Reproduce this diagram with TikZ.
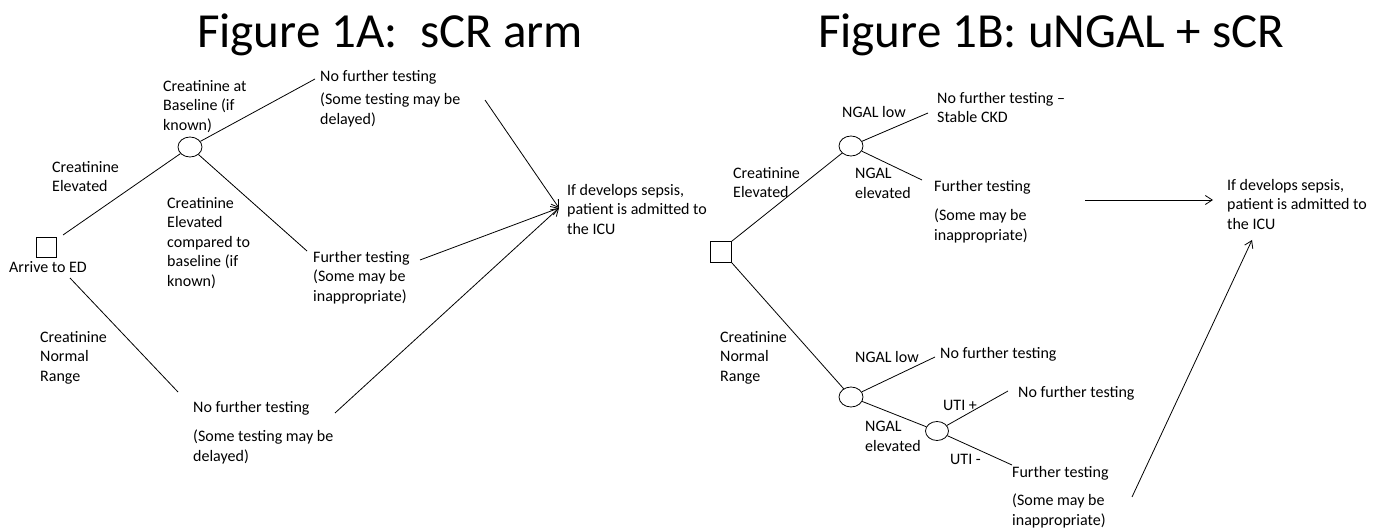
\documentclass[tikz,border=0pt]{standalone}
\usepackage{fontspec}
\setmainfont{Carlito}
\usetikzlibrary{arrows.meta,shapes.geometric}
\newcommand\bodyfont{\fontsize{16}{19.5}\selectfont}
\newcommand\titlefont{\fontsize{49}{58}\selectfont}
\begin{document}
\begin{tikzpicture}[x=1pt,y=-1pt,
  lbl/.style={inner sep=0pt, anchor=north west, align=left, font=\bodyfont},
  ttl/.style={inner sep=0pt, anchor=base, font=\titlefont},
  sqnode/.style={draw, line width=0.8pt, minimum size=#1, inner sep=0pt},
  chance/.style={draw, ellipse, line width=0.8pt, minimum width=24pt, minimum height=20pt, inner sep=0pt},
  branch/.style={line width=0.8pt},
  flow/.style={line width=0.8pt, -{Straight Barb[length=7pt,width=9pt]}}]
\useasboundingbox (0,0) rectangle (1384,529);
\fill[white] (0,0) rectangle (1384,529);

% Titles
\node[ttl] (t1) at (390,48) {Figure 1A:\ \ sCR arm};
\node[ttl] (t2) at (1051,48) {Figure 1B: uNGAL + sCR};

% ---------- Figure 1A ----------
\node[sqnode=20pt] (sq1) at (46,247) {};
\node[lbl, anchor=north] (arr) at (48,261) {Arrive to ED};
\node[chance] (c1) at (190,147) {};

\node[lbl] (a1) at (163,80) {Creatinine at\\Baseline (if\\known)};
\node[lbl] (a2) at (52,161) {Creatinine\\Elevated};
\node[lbl] (a3) at (167,197) {Creatinine\\Elevated\\compared to\\baseline (if\\known)};
\node[lbl] (a4) at (320,70) {No further testing};
\node[lbl] (a5) at (320,93) {(Some testing may be\\delayed)};
\node[lbl] (a6) at (313,251) {Further testing\\(Some may be\\inappropriate)};
\node[lbl] (a7) at (567,184) {If develops sepsis,\\patient is admitted to\\the ICU};
\node[lbl] (a8) at (40,331) {Creatinine\\Normal\\Range};
\node[lbl] (a9) at (193,401) {No further testing};
\node[lbl] (a10) at (193,430) {(Some testing may be\\delayed)};

\coordinate (s1a) at (63,235);
\coordinate (s1b) at (70,278);
\coordinate (e1) at (315,79);
\coordinate (e2) at (307,251);
\coordinate (e3) at (178,392);
\coordinate (f1) at (485,100);
\coordinate (f2) at (420,260);
\coordinate (f3) at (335,413);
\coordinate (icu1) at (559,208);

\draw[branch] (s1a) -- (c1);
\draw[branch] (c1) -- (e1);
\draw[branch] (c1) -- (e2);
\draw[branch] (s1b) -- (e3);
\draw[flow] (f1) -- (icu1);
\draw[flow] (f2) -- (icu1);
\draw[flow] (f3) -- (icu1);

% ---------- Figure 1B ----------
\node[sqnode=21pt] (sq2) at (721,252) {};
\node[chance] (c2) at (851,146) {};
\node[chance] (c3) at (851,397) {};
\node[chance, minimum width=23pt, minimum height=19pt] (c4) at (937,431) {};

\node[lbl] (b1) at (842,106.5) {NGAL low};
\node[lbl] (b2) at (937,92) {No further testing –\\Stable CKD};
\node[lbl] (b3) at (733,167) {Creatinine\\Elevated};
\node[lbl] (b4) at (855,168) {NGAL\\elevated};
\node[lbl] (b5) at (934,180) {Further testing};
\node[lbl] (b6) at (934,209) {(Some may be\\inappropriate)};
\node[lbl] (b7) at (1227,179) {If develops sepsis,\\patient is admitted to\\the ICU};
\node[lbl] (b8) at (720,331) {Creatinine\\Normal\\Range};
\node[lbl] (b9) at (855,351) {NGAL low};
\node[lbl] (b10) at (940,347) {No further testing};
\node[lbl] (b11) at (943,400) {UTI +};
\node[lbl] (b12) at (1018,386) {No further testing};
\node[lbl] (b13) at (865,421) {NGAL\\elevated};
\node[lbl] (b14) at (950,454) {UTI -};
\node[lbl] (b15) at (1012,466) {Further testing};
\node[lbl] (b16) at (1012,494) {(Some may be\\inappropriate)};

\coordinate (e4) at (928,113);
\coordinate (e5) at (922,180);
\coordinate (e6) at (935,357);
\coordinate (e7) at (1008,391);
\coordinate (e8) at (1012,465);
\coordinate (g1) at (1085,200);
\coordinate (icu2) at (1213,200);
\coordinate (g2) at (1132,497);
\coordinate (icu3) at (1252,240);

\draw[branch] (sq2.north east) -- (c2);
\draw[branch] (sq2.south east) -- (c3);
\draw[branch] (c2) -- (e4);
\draw[branch] (c2) -- (e5);
\draw[branch] (c3) -- (e6);
\draw[branch] (c3) -- (c4);
\draw[branch] (c4) -- (e7);
\draw[branch] (c4) -- (e8);
\draw[flow] (g1) -- (icu2);
\draw[flow] (g2) -- (icu3);
\end{tikzpicture}
\end{document}
